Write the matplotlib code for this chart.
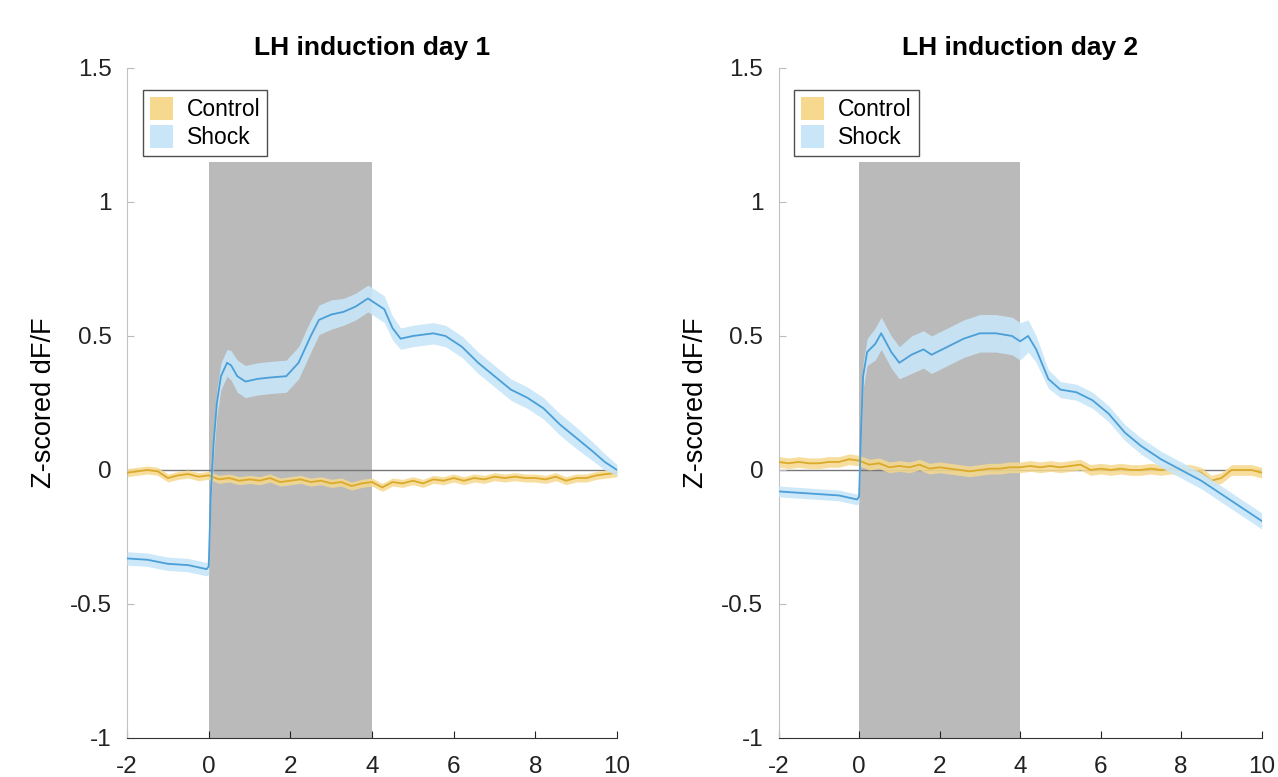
import matplotlib
matplotlib.use("Agg")
import matplotlib.pyplot as plt
import numpy as np
from matplotlib.patches import Patch, Rectangle

plt.rcParams['font.family'] = ['Liberation Sans', 'DejaVu Sans']

titles = ["LH induction day 1", "LH induction day 2"]
ylabel = "Z-scored dF/F"
legend_labels = ["Control", "Shock"]
xticks = [-2, 0, 2, 4, 6, 8, 10]
yticks = [-1, -0.5, 0, 0.5, 1, 1.5]
ytick_labels = ["-1", "-0.5", "0", "0.5", "1", "1.5"]

# Day 1 shock (mean, sem)
shock1_t = [-2, -1.5, -1, -0.5, -0.05, 0, 0.05, 0.12, 0.2, 0.3, 0.45, 0.55, 0.7, 0.9, 1.2, 1.5,
            1.9, 2.2, 2.5, 2.7, 3.0, 3.3, 3.6, 3.9, 4.1, 4.3, 4.5, 4.7, 5.0, 5.5, 5.8, 6.2, 6.6,
            7.0, 7.4, 7.8, 8.2, 8.6, 9.0, 9.4, 9.7, 10]
shock1_m = [-0.33, -0.335, -0.35, -0.355, -0.37, -0.36, -0.1, 0.1, 0.25, 0.35, 0.40, 0.39, 0.35,
            0.33, 0.34, 0.345, 0.35, 0.40, 0.50, 0.56, 0.58, 0.59, 0.61, 0.64, 0.62, 0.60, 0.53,
            0.49, 0.50, 0.51, 0.50, 0.46, 0.40, 0.35, 0.30, 0.27, 0.23, 0.17, 0.12, 0.07, 0.03, 0.0]
shock1_e = [0.025, 0.025, 0.025, 0.025, 0.025, 0.03, 0.04, 0.05, 0.05, 0.05, 0.05, 0.055, 0.06,
            0.06, 0.06, 0.06, 0.06, 0.06, 0.06, 0.055, 0.055, 0.05, 0.05, 0.05, 0.05, 0.05, 0.045,
            0.04, 0.04, 0.04, 0.04, 0.04, 0.04, 0.04, 0.04, 0.04, 0.04, 0.04, 0.04, 0.035, 0.03, 0.02]

# Day 2 shock
shock2_t = [-2, -1.5, -1, -0.5, -0.05, 0, 0.05, 0.1, 0.2, 0.4, 0.55, 0.8, 1.0, 1.3, 1.6, 1.8,
            2.2, 2.6, 3.0, 3.4, 3.8, 4.0, 4.2, 4.4, 4.7, 5.0, 5.4, 5.8, 6.2, 6.6, 7.0, 7.5, 8.0,
            8.5, 9.0, 9.5, 10]
shock2_m = [-0.08, -0.085, -0.09, -0.095, -0.11, -0.10, 0.15, 0.35, 0.44, 0.47, 0.51, 0.44, 0.40,
            0.43, 0.45, 0.43, 0.46, 0.49, 0.51, 0.51, 0.50, 0.48, 0.50, 0.45, 0.34, 0.30, 0.29,
            0.26, 0.21, 0.14, 0.09, 0.04, 0.0, -0.04, -0.09, -0.14, -0.19]
shock2_e = [0.02, 0.02, 0.02, 0.02, 0.02, 0.02, 0.04, 0.05, 0.05, 0.06, 0.06, 0.06, 0.06, 0.07,
            0.07, 0.07, 0.07, 0.07, 0.07, 0.07, 0.07, 0.07, 0.06, 0.05, 0.035, 0.03, 0.03, 0.03,
            0.03, 0.03, 0.03, 0.03, 0.03, 0.03, 0.03, 0.03, 0.03]

# Control traces
ctrl_t = [-2, -1.75, -1.5, -1.25, -1, -0.75, -0.5, -0.25, 0, 0.25, 0.5, 0.75, 1, 1.25, 1.5, 1.75,
          2, 2.25, 2.5, 2.75, 3, 3.25, 3.5, 3.75, 4, 4.25, 4.5, 4.75, 5, 5.25, 5.5, 5.75, 6, 6.25,
          6.5, 6.75, 7, 7.25, 7.5, 7.75, 8, 8.25, 8.5, 8.75, 9, 9.25, 9.5, 9.75, 10]
ctrl1_m = [-0.01, -0.005, 0.0, -0.005, -0.03, -0.02, -0.015, -0.025, -0.02, -0.035, -0.03, -0.04,
           -0.035, -0.04, -0.03, -0.045, -0.04, -0.035, -0.045, -0.04, -0.05, -0.045, -0.06, -0.05,
           -0.045, -0.065, -0.045, -0.05, -0.04, -0.05, -0.035, -0.04, -0.03, -0.04, -0.03, -0.035,
           -0.025, -0.03, -0.025, -0.03, -0.03, -0.035, -0.025, -0.04, -0.03, -0.03, -0.02, -0.015, -0.01]
ctrl1_e = 0.015
ctrl2_m = [0.03, 0.025, 0.03, 0.025, 0.025, 0.03, 0.03, 0.04, 0.035, 0.02, 0.025, 0.01, 0.015, 0.01,
           0.02, 0.005, 0.01, 0.005, 0.0, -0.005, 0.0, 0.005, 0.005, 0.01, 0.01, 0.015, 0.01, 0.015,
           0.01, 0.015, 0.02, 0.0, 0.005, 0.0, 0.005, 0.0, 0.0, 0.005, 0.0, 0.005, 0.0, 0.0, -0.01,
           -0.04, -0.03, 0.0, 0.0, 0.0, -0.01]
ctrl2_e = 0.02

stim_start, stim_end, stim_top = 0, 4, 1.15

shock_line = '#4a9fd8'
shock_fill = '#c8e6f8'
ctrl_line = '#dcaa2a'
ctrl_fill = '#f6d98e'

fig = plt.figure(figsize=(12.78, 7.77), dpi=100)
axes = [fig.add_axes([0.0994, 0.0502, 0.3834, 0.8623]),
        fig.add_axes([0.6092, 0.0502, 0.3780, 0.8623])]

data = [(shock1_t, shock1_m, shock1_e, ctrl1_m, ctrl1_e),
        (shock2_t, shock2_m, shock2_e, ctrl2_m, ctrl2_e)]

for ax, title, (st, sm, se, cm, ce) in zip(axes, titles, data):
    ax.set_xlim(-2, 10)
    ax.set_ylim(-1, 1.5)
    ax.add_patch(Rectangle((stim_start, -1), stim_end - stim_start, stim_top + 1,
                           facecolor='#bababa', edgecolor='none', zorder=0))
    ax.axhline(0, color='#777777', lw=1.0, zorder=1)
    st = np.array(st); sm = np.array(sm); se = np.array(se)
    ct = np.array(ctrl_t); cmv = np.array(cm)
    ax.fill_between(ct, cmv - ce, cmv + ce, color=ctrl_fill, alpha=0.85, lw=0, zorder=2)
    ax.plot(ct, cmv, color=ctrl_line, lw=1.3, zorder=3)
    ax.fill_between(st, sm - se, sm + se, color=shock_fill, alpha=0.9, lw=0, zorder=4)
    ax.plot(st, sm, color=shock_line, lw=1.3, zorder=5)

    ax.set_xticks(xticks)
    ax.set_xticklabels([str(v) for v in xticks])
    ax.set_yticks(yticks)
    ax.set_yticklabels(ytick_labels)
    ax.tick_params(direction='in', labelsize=17.5, length=5, colors='#222222')
    ax.tick_params(axis='x', pad=13)
    ax.tick_params(axis='y', colors='#bbbbbb', labelcolor='#222222', pad=11)
    for s in ['top', 'right']:
        ax.spines[s].set_visible(False)
    ax.spines['left'].set_color('#c0c0c0')
    ax.spines['bottom'].set_color('#333333')
    ax.set_title(title, fontsize=19, fontweight='bold', pad=9)
    ax.set_ylabel(ylabel, fontsize=19.5, labelpad=9)
    handles = [Patch(facecolor=ctrl_fill, edgecolor='none'),
               Patch(facecolor=shock_fill, edgecolor='none')]
    leg = ax.legend(handles, legend_labels, loc='upper left', bbox_to_anchor=(0.033, 0.967),
                    fontsize=16.5, frameon=True, fancybox=False, handlelength=1.0,
                    handleheight=1.2, handletextpad=0.6, borderpad=0.3, labelspacing=0.15,
                    borderaxespad=0)
    leg.get_frame().set_edgecolor('#222222')
    leg.get_frame().set_linewidth(1.0)

fig.savefig('out.png', dpi=100)
